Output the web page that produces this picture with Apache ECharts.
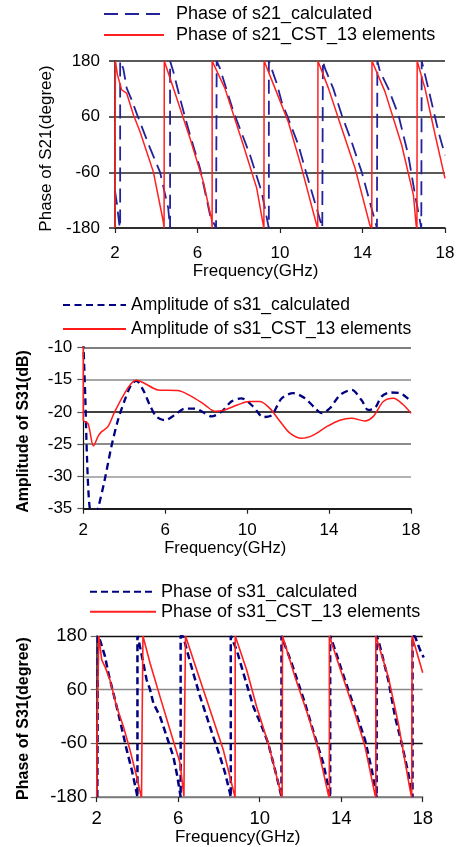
<!DOCTYPE html>
<html><head><meta charset="utf-8">
<script src="https://cdn.jsdelivr.net/npm/echarts@6/dist/echarts.min.js"></script>
<style>html,body{margin:0;padding:0;background:#fff}#c{width:459px;height:847px}</style>
</head><body><div id="c"></div><script>
const FONT = '"Liberation Sans", Arial, sans-serif';
const freqTicks = [2, 6, 10, 14, 18];
const phaseTicks = [-180, -60, 60, 180];

// Chart 1: Phase of S21 (frequency GHz, degree)
const s21PhaseCalc = [[2.0,-100],[2.1,-130],[2.2,-170],[2.25,-180],[2.25,180],[2.4,164],[2.57,121],[2.81,96],[3.05,67],[3.7,-8],[4.18,-59],[4.58,-137],[4.67,-180],[4.67,180],
  [4.83,157],[5.15,100],[5.4,58],[5.64,20],[6.12,-51],[6.61,-152],[6.9,-180],[6.93,180],
  [7.09,164],[7.74,71],[8.55,-23],[9.11,-102],[9.43,-174],[9.46,-180],[9.46,180],
  [9.84,132],[10.08,92],[10.4,56],[10.89,-1],[11.3,-66],[11.78,-138],[12.05,-180],[12.08,180],
  [12.18,164],[12.58,121],[12.99,64],[13.47,6],[13.96,-59],[14.44,-138],[14.7,-180],[14.72,180],
  [14.85,157],[15.25,121],[15.74,64],[16.22,-23],[16.55,-109],[16.85,-180],[16.87,180],
  [16.95,178],[17.19,121],[17.68,28],[18,-23]];
const s21PhaseCST = [[2.0,-180],[2.02,180],[2.12,150],[2.32,118],[2.57,110],[2.89,64],[3.21,28],[3.86,-59],[4.34,-166],[4.38,-180],[4.39,180],
  [4.99,100],[5.64,13],[6.28,-80],[6.69,-163],[6.71,-180],[6.71,180],
  [7.33,121],[8.22,-1],[8.87,-94],[9.19,-174],[9.22,-180],[9.23,180],
  [9.76,121],[10.4,49],[11.05,-51],[11.78,-174],[11.83,-180],[11.84,180],
  [12.35,121],[12.99,35],[13.64,-51],[14.36,-174],[14.45,-180],[14.46,180],
  [15.09,114],[15.9,-1],[16.47,-109],[16.6,-174],[16.64,-180],[16.65,180],
  [17.03,121],[17.52,21],[18,-73]];

// Chart 2: Amplitude of S31 (dB)
const s31AmpCalc = [[2.0,-9],[2.1,-18],[2.18,-27],[2.3,-34.5],[2.5,-37.5],[2.72,-35],[3.04,-30.6],[3.37,-25.4],[3.69,-21.3],[4.02,-18.2],[4.34,-15.8],[4.59,-15.2],[4.92,-16.6],[5.24,-18.9],[5.56,-20.7],[5.97,-21.3],[6.46,-20.5],[6.95,-19.5],[7.44,-19.5],[7.93,-20.2],[8.25,-20.7],[8.74,-20],[9.23,-18.4],[9.71,-17.9],[10.3,-19.2],[10.79,-20.8],[11.2,-20.5],[11.69,-17.9],[12.25,-17.1],[12.82,-17.9],[13.31,-19.4],[13.64,-20.2],[14.05,-19.4],[14.53,-17.4],[15.1,-16.6],[15.59,-18.2],[15.91,-19.7],[16.24,-19.4],[16.57,-17.6],[16.98,-17],[17.46,-17.1],[17.95,-18.2],[18,-18.3]];
const s31AmpCST = [[2.0,-9],[2.0,-21.3],[2.23,-21.8],[2.5,-25.3],[2.72,-23.8],[2.88,-23.1],[3.2,-22.3],[3.53,-20],[4.02,-17.1],[4.34,-15.6],[4.59,-15.1],[5.0,-15.6],[5.65,-16.6],[6.62,-16.7],[7.28,-17.6],[7.93,-18.9],[8.42,-19.9],[8.9,-19.7],[9.55,-18.9],[10.1,-18.4],[10.63,-18.4],[11.12,-19.5],[11.61,-21.5],[12.09,-23.3],[12.66,-24.1],[13.23,-23.6],[13.88,-22.3],[14.53,-21.3],[15.1,-21],[15.75,-21.4],[16.16,-20.7],[16.65,-18.4],[17.14,-17.9],[17.62,-18.9],[18,-20.2]];

// Chart 3: Phase of S31 (degree)
const s31PhaseCalc = [[2.03,-180],[2.06,180],[2.16,171],[2.41,134],[2.57,97],[2.82,52],[3.14,-8],[3.47,-74],[3.72,-119],[3.96,-170],[4.0,-180],[4.0,180],
  [4.09,164],[4.29,119],[4.45,82],[4.62,60],[4.78,30],[5.11,0],[5.44,-45],[5.76,-89],[5.96,-134],[6.12,-180],[6.12,180],
  [6.25,179],[6.42,149],[6.74,97],[7.07,45],[7.4,0],[7.72,-45],[8.05,-89],[8.3,-126],[8.54,-171],[8.58,-180],[8.58,180],
  [8.63,179],[8.87,149],[9.2,97],[9.69,22],[10.1,-22],[10.42,-60],[10.75,-119],[10.95,-156],[11.05,-175],[11.07,-180],[11.07,180],
  [11.57,119],[12.22,30],[12.71,-45],[13.12,-104],[13.43,-171],[13.46,-180],[13.46,180],
  [13.7,149],[14.02,104],[14.68,15],[15.17,-52],[15.5,-119],[15.72,-175],[15.74,-180],[15.74,180],
  [15.82,171],[15.99,141],[16.31,82],[16.64,0],[16.97,-60],[17.29,-126],[17.46,-171],[17.5,-180],[17.5,180],
  [17.62,179],[17.87,149],[18.05,132]];
const s31PhaseCST = [[2.0,-180],[2.02,-40],[2.1,180],[2.25,126],[2.41,111],[2.65,82],[2.98,22],[3.31,-22],[3.63,-74],[3.96,-134],[4.16,-175],[4.2,-180],[4.22,-60],[4.27,180],
  [4.62,119],[5.11,44],[5.6,-30],[6.09,-104],[6.28,-178],[6.3,-180],[6.31,-20],[6.36,180],
  [6.91,104],[7.56,15],[8.21,-74],[8.7,-164],[8.79,-180],[8.8,180],
  [9.36,104],[9.85,22],[10.42,-60],[11.0,-164],[11.1,-180],[11.12,180],
  [11.73,89],[12.39,0],[12.88,-74],[13.37,-175],[13.42,-180],[13.42,180],
  [14.02,97],[14.68,7],[15.17,-67],[15.66,-175],[15.7,-180],[15.7,180],
  [16.31,89],[16.8,-15],[17.38,-164],[17.46,-180],[17.48,180],
  [18,98]];

const names = {
  c1a: 'Phase of s21_calculated', c1b: 'Phase of s21_CST_13 elements',
  c2a: 'Amplitude of s31_calculated', c2b: 'Amplitude of s31_CST_13 elements',
  c3a: 'Phase of s31_calculated', c3b: 'Phase of s31_CST_13 elements'
};

function xAxisCfg(gi, fs, margin, nameGap, nameFs, padRight, lineColor) {
  return {
    gridIndex: gi, type: 'value', min: 2, max: 18,
    name: 'Frequency(GHz)', nameLocation: 'middle', nameGap: nameGap,
    nameTextStyle: { fontFamily: FONT, fontSize: nameFs, color: '#000', padding: [0, padRight, 0, 0] },
    axisLine: { show: true, onZero: false, lineStyle: { color: lineColor, width: 1.5 } },
    axisTick: { show: true, length: 5, inside: false, customValues: freqTicks, lineStyle: { color: '#222', width: 1.2 } },
    axisLabel: { customValues: freqTicks, fontFamily: FONT, fontSize: fs, color: '#000', margin: margin },
    splitLine: { show: false }
  };
}

const legendBase = { orient: 'vertical', padding: 0, itemHeight: 14,
  itemStyle: { opacity: 0, color: 'rgba(0,0,0,0)', borderWidth: 0 } };

const chart = echarts.init(document.getElementById('c'), null, { renderer: 'canvas' });
chart.setOption({
  backgroundColor: '#fff',
  animation: false,
  grid: [
    { left: 115, top: 61, width: 330, height: 167 },
    { left: 83.3, top: 347.3, width: 327.7, height: 161.4 },
    { left: 96.7, top: 636, width: 326, height: 161.3 }
  ],
  legend: [
    Object.assign({}, legendBase, { data: [names.c1a, names.c1b], left: 103, top: 4, itemWidth: 60, itemGap: 1,
      textStyle: { fontFamily: FONT, fontSize: 18, color: '#000', lineHeight: 20, padding: [0, 0, 0, 7] } }),
    Object.assign({}, legendBase, { data: [names.c2a, names.c2b], left: 62, top: 295, itemWidth: 63, itemGap: 4,
      textStyle: { fontFamily: FONT, fontSize: 17.5, color: '#000', lineHeight: 20 } }),
    Object.assign({}, legendBase, { data: [names.c3a, names.c3b], left: 89, top: 581.7, itemWidth: 66, itemGap: 0,
      textStyle: { fontFamily: FONT, fontSize: 18, color: '#000', lineHeight: 20 } })
  ],
  xAxis: [
    xAxisCfg(0, 17, 17, 32, 17, 49, '#222'),
    xAxisCfg(1, 17, 13, 29.5, 16.5, 44, '#111'),
    xAxisCfg(2, 18.5, 12, 29, 17, 44, '#777')
  ],
  yAxis: [
    { gridIndex: 0, type: 'value', min: -180, max: 180,
      name: 'Phase of S21(degree)', nameLocation: 'middle', nameGap: 53.5,
      nameTextStyle: { fontFamily: FONT, fontSize: 17, color: '#000', padding: [0, 8, 0, 0] },
      axisLine: { show: true, lineStyle: { color: '#111', width: 1.5 } },
      axisTick: { show: true, length: 6, customValues: phaseTicks, lineStyle: { color: '#222', width: 1.5 } },
      axisLabel: { customValues: phaseTicks, fontFamily: FONT, fontSize: 17, color: '#000', margin: 15 },
      splitLine: { show: true, lineStyle: { color: '#222', width: 1.5 } } },
    { gridIndex: 1, type: 'value', min: -35, max: -10, interval: 5,
      name: 'Amplitude of S31(dB)', nameLocation: 'middle', nameGap: 52,
      nameTextStyle: { fontFamily: FONT, fontSize: 16, fontWeight: 'bold', color: '#000', padding: [0, 7, 0, 0] },
      axisLine: { show: true, lineStyle: { color: '#111', width: 1.2 } },
      axisTick: { show: true, length: 6, lineStyle: { color: '#555', width: 1.2 } },
      axisLabel: { fontFamily: FONT, fontSize: 17, color: '#000', margin: 11 },
      splitLine: { show: true, lineStyle: { color: ['#000', '#999', '#666', '#000', '#888', '#555'], width: 1.5 } } },
    { gridIndex: 2, type: 'value', min: -180, max: 180,
      name: 'Phase of S31(degree)', nameLocation: 'middle', nameGap: 65,
      nameTextStyle: { fontFamily: FONT, fontSize: 16, fontWeight: 'bold', color: '#000', padding: [0, 4, 0, 0] },
      axisLine: { show: true, lineStyle: { color: '#111', width: 1.5 } },
      axisTick: { show: true, length: 6, customValues: phaseTicks, lineStyle: { color: '#666', width: 1.2 } },
      axisLabel: { customValues: phaseTicks, fontFamily: FONT, fontSize: 18.5, color: '#000', margin: 9.5 },
      splitLine: { show: true, lineStyle: { color: ['#888', '#111', '#888', '#111'], width: 1.3 } } }
  ],
  series: [
    { name: names.c1a, type: 'line', xAxisIndex: 0, yAxisIndex: 0, data: s21PhaseCalc, symbol: 'none',
      lineStyle: { color: '#22229a', width: 1.8, type: [14, 7] }, itemStyle: { color: '#22229a' } },
    { name: names.c1b, type: 'line', xAxisIndex: 0, yAxisIndex: 0, data: s21PhaseCST, symbol: 'none',
      lineStyle: { color: '#ff2020', width: 1.5 }, itemStyle: { color: '#ff2020' } },
    { name: names.c2a, type: 'line', xAxisIndex: 1, yAxisIndex: 1, data: s31AmpCalc, symbol: 'none', smooth: 0.3,
      lineStyle: { color: '#000080', width: 2.3, type: [7, 4.5] }, itemStyle: { color: '#000080' } },
    { name: names.c2b, type: 'line', xAxisIndex: 1, yAxisIndex: 1, data: s31AmpCST, symbol: 'none', smooth: 0.3,
      lineStyle: { color: '#ff1a1a', width: 1.5 }, itemStyle: { color: '#ff1a1a' } },
    { name: names.c3a, type: 'line', xAxisIndex: 2, yAxisIndex: 2, data: s31PhaseCalc, symbol: 'none',
      lineStyle: { color: '#000080', width: 2.5, type: [7, 4] }, itemStyle: { color: '#000080' } },
    { name: names.c3b, type: 'line', xAxisIndex: 2, yAxisIndex: 2, data: s31PhaseCST, symbol: 'none',
      lineStyle: { color: '#ff2020', width: 1.6 }, itemStyle: { color: '#ff2020' } }
  ]
});
</script></body></html>
